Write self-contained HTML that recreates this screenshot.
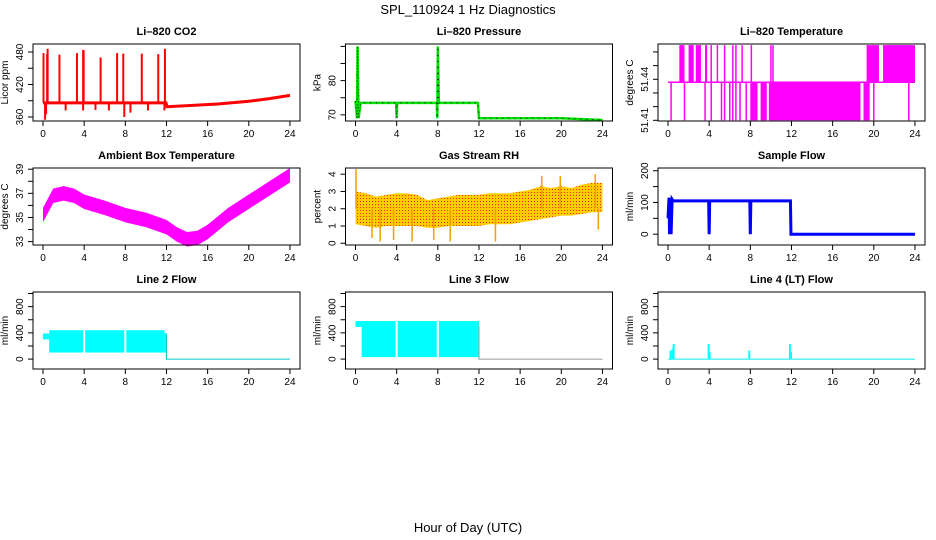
<!DOCTYPE html>
<html><head><meta charset="utf-8"><style>
body{margin:0;background:#fff}
svg{display:block;font-family:"Liberation Sans",Arial,sans-serif}
</style></head><body>
<svg id="c" width="936" height="540" viewBox="0 0 936 540">
<defs>
<pattern id="rhpat" width="3" height="3" patternUnits="userSpaceOnUse"><rect width="3" height="3" fill="#ffcc00"/><rect width="1" height="1" fill="#e83000"/></pattern>
</defs>
<text x="468" y="14" text-anchor="middle" font-size="13">SPL_110924  1 Hz Diagnostics</text>
<text x="468" y="532" text-anchor="middle" font-size="13">Hour of Day (UTC)</text>
</svg>
<script>
const hourTicks=[0,4,8,12,16,20,24];
// CO2
const co2BaseHours=[0,11.95,12.05,15,17,20,22,24];
const co2Base=[386,386,379,382,384,389,394,400];
const co2SpikeHours=[0.05,0.4,0.45,1.6,3.3,3.9,3.95,5.6,7.2,7.8,9.6,11.2,11.85];
const co2SpikeVals=[478,476,486,475,478,484,483,470,478,477,477,476,486];
const co2DipHours=[0.2,0.3,2.2,3.9,5.1,6.4,7.9,8.5,10.2,11.8];
const co2DipVals=[355,365,372,372,373,372,360,368,372,372];
// Pressure
const pressHours=[0,0.15,0.2,0.3,0.5,3.95,4,4.05,7.9,7.95,8,8.05,8.1,11.9,12,12.05,20,24];
const pressVals=[74,69,90,69,73.5,73.5,69,73.5,73.5,69,90,82,73.5,73.5,69,69,69,68.5];
// Li-820 temperature
const ltLevels=[51.41,51.4378,51.465];
const ltHighRanges=[[1.1,1.6],[2.0,2.5],[2.7,3.2],[3.6,3.8],[19.3,20.5],[20.9,24]];
const ltLowRanges=[[8.0,8.7],[9.0,9.6],[9.8,18.7],[19.0,19.6]];
const ltHighLines=[4.2,4.8,5.5,6.3,6.6,7.2,8.1,10.0,10.2];
const ltLowLines=[0.3,1.6,3.6,4.2,5.2,5.5,6.0,6.3,6.6,7.0,7.6,20.0,23.4];
// Ambient
const ambHours=[0,0.5,1,2,3,4,6,8,10,12,13,14,15,16,17,18,20,22,24];
const ambMid=[35.2,36,36.8,37,36.8,36.3,35.8,35.2,34.8,34.2,33.6,33.2,33.3,33.8,34.5,35.2,36.3,37.4,38.5];
// RH
const rhHours=[0,1,2,3,4,5,6,7,8,9,10,11,12,13,14,15,16,17,18,19,20,21,22,23,24];
const rhLo=[1.1,1.0,0.9,1.0,1.0,1.0,1.0,0.9,0.9,1.0,1.0,1.0,1.0,1.1,1.1,1.1,1.2,1.3,1.4,1.5,1.6,1.6,1.7,1.8,1.8];
const rhHi=[3.0,2.9,2.7,2.8,2.9,2.9,2.8,2.5,2.6,2.7,2.8,2.8,2.8,2.9,2.9,2.9,3.0,3.1,3.3,3.2,3.3,3.2,3.4,3.5,3.5];
const rhSpikeHours=[0.05,1.6,2.4,3.7,5.5,7.6,9.2,13.6,18.1,19.9,23.3,23.6];
const rhSpikeVals=[4.3,0.3,0.1,0.2,0.1,0.2,0.1,0.1,3.9,3.9,4.0,0.8];
// Sample flow
const sfHours=[0,0.1,0.15,0.25,0.3,0.4,0.5,3.95,4,4.05,7.95,8,8.05,11.9,11.95,12,24];
const sfVals=[50,115,0,115,0,110,105,105,0,105,105,0,105,105,0,0,0];
// Line flows
const segStart=[0.6,4.1,8.1];
const segEnd=[3.9,7.9,11.8];
const l2Lo=[100,100,100], l2Hi=[440,440,440];
const l3Lo=[30,30,30], l3Hi=[580,580,580];
const l4SpikeHours=[0.25,0.45,0.55,3.95,4.05,7.9,11.85,11.95];
const l4SpikeVals=[130,160,230,230,110,130,230,110];

const svg=document.getElementById('c');
const NS='http://www.w3.org/2000/svg';
function mk(tag,attrs,parent){const e=document.createElementNS(NS,tag);for(const k in attrs)e.setAttribute(k,attrs[k]);(parent||svg).appendChild(e);return e;}

function panel(col,row,name,title,ylab,dom,ticks,labels){
  const g=mk('g',{});
  
  
  const L=33+312.5*col,R=L+267,T=44+124*row,B=T+77;
  const sx=h=>43+312.5*col+h*10.29;
  const sy=v=>B-(v-dom[0])/(dom[1]-dom[0])*77;
  const t=mk('text',{x:(L+R)/2,y:T-9,'text-anchor':'middle','font-size':11,'font-weight':'bold'},g);t.textContent=title;
  
  
  mk('line',{x1:sx(0),x2:sx(24),y1:B,y2:B,stroke:'#000'},g);
  hourTicks.forEach(h=>{
    mk('line',{x1:sx(h),x2:sx(h),y1:B,y2:B+5,stroke:'#000'},g);
    const tx=mk('text',{x:sx(h),y:B+16,'text-anchor':'middle','font-size':10},g);tx.textContent=h;
    
    
  });
  ticks.forEach(v=>{
    mk('line',{x1:L-5,x2:L,y1:sy(v),y2:sy(v),stroke:'#000'},g);
  });
  labels.forEach(v=>{
    const tx=mk('text',{x:L-10,y:sy(v),'text-anchor':'middle','font-size':10,transform:`rotate(-90 ${L-10} ${sy(v)})`},g);tx.textContent=v;
    
    
  });
  const yl=mk('text',{x:L-25,y:(T+B)/2,'text-anchor':'middle','font-size':10,transform:`rotate(-90 ${L-25} ${(T+B)/2})`},g);yl.textContent=ylab;
  
  
  const data=mk('g',{},g);
  mk('rect',{x:L,y:T,width:R-L,height:B-T,fill:'none',stroke:'#000'},g);
  return {sx,sy,g:data};
}
function poly(p,xs,ys,attrs){return mk('polyline',Object.assign({points:xs.map((x,i)=>p.sx(x)+','+p.sy(ys[i])).join(' '),fill:'none'},attrs),p.g);}
function vline(p,h,v1,v2,attrs){return mk('line',Object.assign({x1:p.sx(h),x2:p.sx(h),y1:p.sy(v1),y2:p.sy(v2)},attrs),p.g);}

// CO2
let p=panel(0,0,'co2','Li\u2013820 CO2','Licor ppm',[352.6,494.8],[360,390,420,450,480],[360,420,480]);
poly(p,co2BaseHours,co2Base,{stroke:'#f00','stroke-width':3});
co2SpikeHours.forEach((h,i)=>vline(p,h,386,co2SpikeVals[i],{stroke:'#f00','stroke-width':2}));
co2DipHours.forEach((h,i)=>vline(p,h,386,co2DipVals[i],{stroke:'#f00','stroke-width':2}));
// Pressure
p=panel(1,0,'pressure','Li\u2013820 Pressure','kPa',[68.2,90.7],[70,75,80,85,90],[70,80]);
poly(p,pressHours,pressVals,{stroke:'#00e000','stroke-width':2.5});
poly(p,pressHours,pressVals,{stroke:'#000','stroke-width':1,'stroke-dasharray':'1,5'});
// Li temp
p=panel(2,0,'li820-temperature','Li\u2013820 Temperature','degrees C',[51.4095,51.4658],[51.41,51.42,51.43,51.44,51.45,51.46],[51.41,51.44]);
poly(p,[0,24],[ltLevels[1],ltLevels[1]],{stroke:'#f0f','stroke-width':1.5});
ltHighRanges.forEach(r=>mk('rect',{x:p.sx(r[0]),y:p.sy(ltLevels[2]),width:p.sx(r[1])-p.sx(r[0]),height:p.sy(ltLevels[1])-p.sy(ltLevels[2]),fill:'#f0f'},p.g));
ltLowRanges.forEach(r=>mk('rect',{x:p.sx(r[0]),y:p.sy(ltLevels[1]),width:p.sx(r[1])-p.sx(r[0]),height:p.sy(ltLevels[0])-p.sy(ltLevels[1]),fill:'#f0f'},p.g));
ltHighLines.forEach(h=>vline(p,h,ltLevels[1],ltLevels[2],{stroke:'#f0f','stroke-width':1.5}));
ltLowLines.forEach(h=>vline(p,h,ltLevels[1],ltLevels[0],{stroke:'#f0f','stroke-width':1.5}));
// Ambient
p=panel(0,1,'ambient-temperature','Ambient Box Temperature','degrees C',[32.72,39.1],[33,34,35,36,37,38,39],[33,35,37,39]);
mk('polygon',{points:ambHours.map((h,i)=>p.sx(h)+','+p.sy(ambMid[i]+0.6)).concat(ambHours.slice().reverse().map((h,j)=>p.sx(h)+','+p.sy(ambMid[ambHours.length-1-j]-0.6))).join(' '),fill:'#f0f'},p.g);
// RH
p=panel(1,1,'gas-stream-rh','Gas Stream RH','percent',[-0.1,4.36],[0,1,2,3,4],[0,1,2,3,4]);
mk('polygon',{points:rhHours.map((h,i)=>p.sx(h)+','+p.sy(rhHi[i])).concat(rhHours.slice().reverse().map((h,j)=>p.sx(h)+','+p.sy(rhLo[rhHours.length-1-j]))).join(' '),fill:'url(#rhpat)'},p.g);
rhSpikeHours.forEach((h,i)=>vline(p,h,2,rhSpikeVals[i],{stroke:'#f0a000','stroke-width':1.5}));
// Sample flow
p=panel(2,1,'sample-flow','Sample Flow','ml/min',[-34,208.6],[0,50,100,150,200],[0,100,200]);
poly(p,sfHours,sfVals,{stroke:'#00f','stroke-width':3});
// Line 2
p=panel(0,2,'line2-flow','Line 2 Flow','ml/min',[-151,1023],[0,200,400,600,800,1000],[0,400,800]);
segStart.forEach((s,i)=>mk('rect',{x:p.sx(s),y:p.sy(l2Hi[i]),width:p.sx(segEnd[i])-p.sx(s),height:p.sy(l2Lo[i])-p.sy(l2Hi[i]),fill:'#0ff'},p.g));
mk('rect',{x:p.sx(0),y:p.sy(390),width:p.sx(0.6)-p.sx(0),height:p.sy(300)-p.sy(390),fill:'#0ff'},p.g);
mk('rect',{x:p.sx(11.8),y:p.sy(400),width:p.sx(12)-p.sx(11.8),height:p.sy(100)-p.sy(400),fill:'#0ff'},p.g);
poly(p,[12,12,24],[380,0,0],{stroke:'#0cc','stroke-width':1});
// Line 3
p=panel(1,2,'line3-flow','Line 3 Flow','ml/min',[-151,1023],[0,200,400,600,800,1000],[0,400,800]);
segStart.forEach((s,i)=>mk('rect',{x:p.sx(s),y:p.sy(l3Hi[i]),width:p.sx(segEnd[i])-p.sx(s),height:p.sy(l3Lo[i])-p.sy(l3Hi[i]),fill:'#0ff'},p.g));
mk('rect',{x:p.sx(0),y:p.sy(580),width:p.sx(0.6)-p.sx(0),height:p.sy(490)-p.sy(580),fill:'#0ff'},p.g);
mk('rect',{x:p.sx(11.8),y:p.sy(580),width:p.sx(12)-p.sx(11.8),height:p.sy(30)-p.sy(580),fill:'#0ff'},p.g);
poly(p,[12,12,24],[500,0,0],{stroke:'#999','stroke-width':1});
// Line 4
p=panel(2,2,'line4-flow','Line 4 (LT) Flow','ml/min',[-151,1023],[0,200,400,600,800,1000],[0,400,800]);
poly(p,[0,24],[0,0],{stroke:'#0ee','stroke-width':1});
l4SpikeHours.forEach((h,i)=>vline(p,h,0,l4SpikeVals[i],{stroke:'#0ff','stroke-width':2}));
</script>
</body></html>
